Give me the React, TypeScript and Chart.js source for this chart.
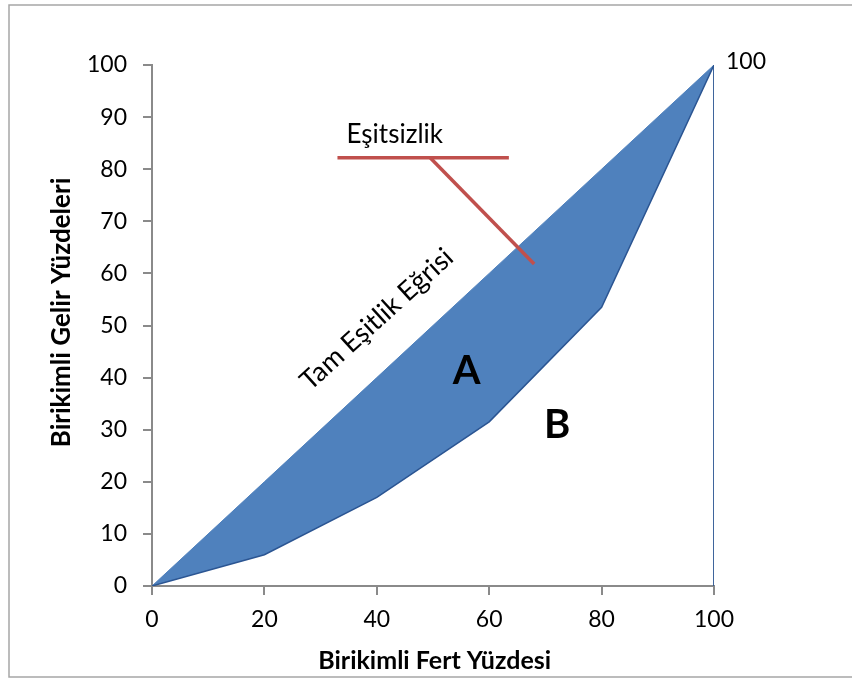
import React, { useEffect, useRef } from "react";
import { Chart, registerables } from "chart.js";

Chart.register(...registerables);

// Cumulative population share (x) and cumulative income share (y)
const cumPopulation = [0, 20, 40, 60, 80, 100];
const equalityLine = [0, 20, 40, 60, 80, 100];
const lorenzCurve = [0, 6, 17, 31.5, 53.5, 100];
const rightEdgeX = [100, 100];
const rightEdgeY = [0, 100];
// red pointer of the "Eşitsizlik" label
const pointerBarX = [33, 63.5];
const pointerBarY = [82.2, 82.2];
const pointerDiagX = [49.5, 68];
const pointerDiagY = [82.2, 61.8];

const xTickValues = [0, 20, 40, 60, 80, 100];
const yTickStep = 10;
const xTitle = "Birikimli Fert Yüzdesi";
const yTitle = "Birikimli Gelir Yüzdeleri";
const FONT = "Lato, 'Open Sans', sans-serif";

const pts = (xs: number[], ys: number[]) => xs.map((x, i) => ({ x, y: ys[i] }));

const textPlugin = {
  id: "texts",
  beforeDraw(chart: any) {
    const ctx = chart.ctx;
    ctx.save();
    ctx.fillStyle = "#ffffff";
    ctx.fillRect(0, 0, chart.width, chart.height);
    ctx.strokeStyle = "#a6a6a6";
    ctx.lineWidth = 1.5;
    ctx.strokeRect(9, 5, chart.width, 672);
    ctx.restore();
  },
  afterDatasetsDraw(chart: any) {
    const ctx = chart.ctx;
    const xs = chart.scales.x;
    const ys = chart.scales.y;
    const X = (v: number) => xs.getPixelForValue(v);
    const Y = (v: number) => ys.getPixelForValue(v);
    ctx.save();
    ctx.fillStyle = "#000";
    ctx.textBaseline = "middle";

    // "100" at the top-right corner
    ctx.font = `23px ${FONT}`;
    ctx.textAlign = "left";
    ctx.fillText("100", X(100) + 12, Y(100) - 3);

    // Eşitsizlik
    ctx.font = `26px ${FONT}`;
    ctx.textAlign = "center";
    ctx.fillText("Eşitsizlik", X(43.2), Y(86.6));

    // Tam Eşitlik Eğrisi (rotated along the diagonal)
    ctx.save();
    ctx.translate(X(40), Y(51.2));
    ctx.rotate(-Math.atan2(Y(0) - Y(100), X(100) - X(0)) + 0.01);
    ctx.font = `27px ${FONT}`;
    ctx.textAlign = "center";
    ctx.fillText("Tam Eşitlik Eğrisi", 0, 0);
    ctx.restore();

    // A and B
    ctx.font = `bold 40px ${FONT}`;
    ctx.textAlign = "center";
    ctx.fillText("A", X(56), Y(41.3));
    ctx.fillText("B", X(72.1), Y(30.9));

    // axis titles
    ctx.font = `bold 25px ${FONT}`;
    ctx.fillText(xTitle, X(50.3), 661);
    ctx.save();
    ctx.translate(62, Y(52.5));
    ctx.rotate(-Math.PI / 2);
    ctx.font = `bold 26px ${FONT}`;
    ctx.fillText(yTitle, 0, 0);
    ctx.restore();

    ctx.restore();
  },
};

export default function App() {
  const ref = useRef<HTMLCanvasElement | null>(null);
  useEffect(() => {
    if (!ref.current) return;
    const axisColor = "#8a8a8a";
    const chart = new Chart(ref.current, {
      type: "scatter",
      data: {
        datasets: [
          {
            data: pts(cumPopulation, equalityLine),
            showLine: true,
            borderColor: "#4F81BD",
            borderWidth: 1,
            backgroundColor: "#4F81BD",
            pointRadius: 0,
            fill: { target: 1 },
            order: 3,
          },
          {
            data: pts(cumPopulation, lorenzCurve),
            showLine: true,
            borderColor: "#2B5592",
            borderWidth: 1.5,
            pointRadius: 0,
            fill: false,
            order: 2,
          },
          {
            data: pts(rightEdgeX, rightEdgeY),
            showLine: true,
            borderColor: "#2B5592",
            borderWidth: 1.8,
            pointRadius: 0,
            fill: false,
            order: 2,
          },
          {
            data: pts(pointerBarX, pointerBarY),
            showLine: true,
            borderColor: "#C0504D",
            borderWidth: 3.5,
            pointRadius: 0,
            fill: false,
            order: 0,
          },
          {
            data: pts(pointerDiagX, pointerDiagY),
            showLine: true,
            borderColor: "#C0504D",
            borderWidth: 3.5,
            pointRadius: 0,
            fill: false,
            order: 0,
          },
        ],
      },
      options: {
        responsive: false,
        animation: false,
        events: [],
        layout: { padding: { left: 0, right: 138, top: 65, bottom: 0 } },
        plugins: {
          legend: { display: false },
          tooltip: { enabled: false },
          title: { display: false },
        },
        scales: {
          x: {
            type: "linear",
            min: 0,
            max: 100,
            afterBuildTicks: (s: any) => {
              s.ticks = xTickValues.map((v) => ({ value: v }));
            },
            afterFit: (s: any) => {
              s.height = 93;
            },
            ticks: { color: "#000", font: { family: FONT, size: 23 }, padding: 11 },
            grid: { drawOnChartArea: false, drawTicks: true, tickLength: 9, color: axisColor, lineWidth: 2 },
            border: { color: axisColor, width: 2 },
          },
          y: {
            type: "linear",
            min: 0,
            max: 100,
            ticks: { stepSize: yTickStep, color: "#000", font: { family: FONT, size: 23 }, padding: 16 },
            afterFit: (s: any) => {
              s.width = 152;
            },
            grid: { drawOnChartArea: false, drawTicks: true, tickLength: 9, color: axisColor, lineWidth: 2 },
            border: { color: axisColor, width: 2 },
          },
        },
      },
      plugins: [textPlugin],
    });
    return () => chart.destroy();
  }, []);
  return (
    <div style={{ position: "fixed", left: 0, top: 0, width: 852, height: 679 }}>
      <canvas ref={ref} width={852} height={679} style={{ display: "block" }} />
    </div>
  );
}
